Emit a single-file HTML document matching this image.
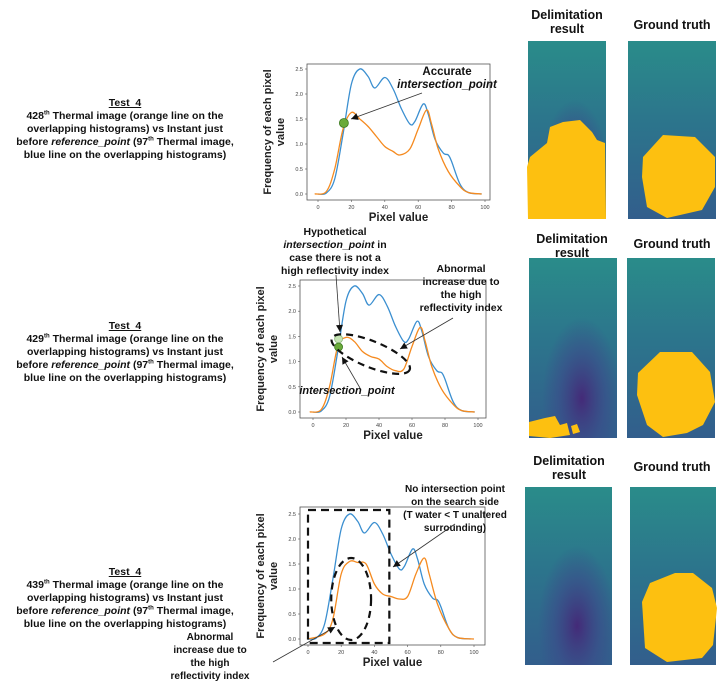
<!DOCTYPE html>
<html><head><meta charset="utf-8"><style>
body{margin:0;width:722px;height:683px;background:#fff;position:relative;overflow:hidden;font-family:"Liberation Sans",Arial,sans-serif}
.desc{position:absolute;left:0;width:250px;text-align:center;font-weight:bold;font-size:10.5px;line-height:13px;color:#111;white-space:nowrap}
.desc sup{font-size:6px;line-height:0}
.ttl{position:absolute;text-align:center;font-weight:bold;font-size:12.5px;line-height:14px;color:#111}
svg{position:absolute;left:0;top:0}
</style></head><body>
<div class="desc" style="top:97px"><u>Test_4</u><br>428<sup>th</sup> Thermal image (orange line on the<br>overlapping histograms) vs Instant just<br>before <i>reference_point</i> (97<sup>th</sup> Thermal image,<br>blue line on the overlapping histograms)</div>
<div class="desc" style="top:320px"><u>Test_4</u><br>429<sup>th</sup> Thermal image (orange line on the<br>overlapping histograms) vs Instant just<br>before <i>reference_point</i> (97<sup>th</sup> Thermal image,<br>blue line on the overlapping histograms)</div>
<div class="desc" style="top:566px"><u>Test_4</u><br>439<sup>th</sup> Thermal image (orange line on the<br>overlapping histograms) vs Instant just<br>before <i>reference_point</i> (97<sup>th</sup> Thermal image,<br>blue line on the overlapping histograms)</div>

<div class="ttl" style="left:517px;top:8px;width:100px">Delimitation<br>result</div>
<div class="ttl" style="left:622px;top:18px;width:100px">Ground truth</div>
<div class="ttl" style="left:522px;top:232px;width:100px">Delimitation<br>result</div>
<div class="ttl" style="left:622px;top:237px;width:100px">Ground truth</div>
<div class="ttl" style="left:519px;top:454px;width:100px">Delimitation<br>result</div>
<div class="ttl" style="left:622px;top:460px;width:100px">Ground truth</div>

<svg width="722" height="683" id="s">
<defs>
<linearGradient id="bg" x1="0" y1="0" x2="0" y2="1"><stop offset="0" stop-color="#2a8c8a"/><stop offset="0.45" stop-color="#2c758c"/><stop offset="1" stop-color="#325e8c"/></linearGradient>
<radialGradient id="dk" cx="0.6" cy="0.78" r="0.45"><stop offset="0" stop-color="#442a78"/><stop offset="0.6" stop-color="#3b4b8a" stop-opacity="0.6"/><stop offset="1" stop-color="#3b4b8a" stop-opacity="0"/></radialGradient>
</defs>
<g>
<rect x="528" y="41" width="78" height="178" fill="url(#bg)"/><rect x="528" y="41" width="78" height="178" fill="url(#dk)"/>
<polygon fill="#fdc010" points="527,167 530,157 547,143 550,127 563,122 580,120 592,132 597,140 605,143 606,219 528,219"/>
<rect x="628" y="41" width="88" height="178" fill="url(#bg)"/>
<polygon fill="#fdc010" points="643,157 663,135 695,137 715,157 715,187 702,210 667,218 647,207 642,177"/>
<rect x="529" y="258" width="88" height="180" fill="url(#bg)"/><rect x="529" y="258" width="88" height="180" fill="url(#dk)"/>
<polygon fill="#fdc010" points="529,422 545,418 555,416 560,425 567,423 570,435 550,438 529,436"/>
<polygon fill="#fdc010" points="571,426 577,424 580,432 573,434"/>
<rect x="627" y="258" width="88" height="180" fill="url(#bg)"/>
<polygon fill="#fdc010" points="660,352 692,352 710,372 715,402 703,425 687,433 663,437 647,425 637,395 638,373"/>
<rect x="525" y="487" width="87" height="178" fill="url(#bg)"/><rect x="525" y="487" width="87" height="178" fill="url(#dk)"/>
<rect x="630" y="487" width="86" height="178" fill="url(#bg)"/>
<polygon fill="#fdc010" points="650,583 675,573 693,573 712,588 717,608 713,645 702,658 667,662 645,648 642,602"/>
</g>
</svg>
<script>
const xVals=[0,5,10,15,20,25,30,34,40,45,50,55,58,63,66,70,75,78,80,85,90,98];
const blue=[0,0.02,0.3,1.2,2.2,2.5,2.35,2.12,2.33,2.1,1.7,1.4,1.45,1.8,1.6,1.1,0.82,0.78,0.65,0.2,0.03,0];
const xOr1=[-2,5,10,15,20,25,30,35,40,45,49,55,60,65,68,72,78,85,90,98];
const orange1=[0,0.05,0.5,1.3,1.63,1.5,1.35,1.15,0.95,0.85,0.78,0.9,1.3,1.68,1.4,0.9,0.45,0.15,0.03,0];
const xOr2=[-2,5,10,15,20,25,30,35,40,45,50,55,60,65,68,72,78,85,90,98];
const orange2=[0,0.05,0.5,1.3,1.48,1.4,1.2,1.1,1.05,0.9,0.82,0.85,1.3,1.68,1.4,0.9,0.45,0.15,0.03,0];
const xOr3=[0,10,15,20,25,30,35,40,45,50,55,60,65,70,73,78,85,90,100];
const orange3=[0,0.1,0.4,1.3,1.55,1.53,1.5,1.1,0.9,0.85,0.8,0.85,1.3,1.62,1.3,0.7,0.2,0.03,0];
const xTicks=[0,20,40,60,80,100];
const yTicks=[0.0,0.5,1.0,1.5,2.0,2.5];
const NS="http://www.w3.org/2000/svg";
const svg=document.getElementById('s');
function mk(t,a,p){const e=document.createElementNS(NS,t);for(const k in a)e.setAttribute(k,a[k]);(p||svg).appendChild(e);return e;}
function path(xs,ys,sx,sy){const P=xs.map((x,i)=>[sx(x),sy(ys[i])]);let d='M'+P[0][0]+','+P[0][1];
for(let i=0;i<P.length-1;i++){const p0=P[i-1]||P[i],p1=P[i],p2=P[i+1],p3=P[i+2]||p2;
d+=' C'+(p1[0]+(p2[0]-p0[0])/6)+','+(p1[1]+(p2[1]-p0[1])/6)+' '+(p2[0]-(p3[0]-p1[0])/6)+','+(p2[1]-(p3[1]-p1[1])/6)+' '+p2[0]+','+p2[1];}return d;}
function chart(c,n){
 const g=mk('g',{});
 
 
 const sx=v=>c.x0+(v/100)*(c.x1-c.x0), sy=v=>c.y0-(v/2.5)*(c.y0-c.y1);
 mk('rect',{x:c.bl,y:c.bt,width:c.br-c.bl,height:c.bb-c.bt,fill:'none',stroke:'#555','stroke-width':0.8},g);
 xTicks.forEach(t=>{mk('line',{x1:sx(t),x2:sx(t),y1:c.bb,y2:c.bb+2,stroke:'#555','stroke-width':0.6},g);
  const e=mk('text',{x:sx(t),y:c.bb+9,'font-size':5.5,'text-anchor':'middle',fill:'#444'},g);e.textContent=t;});
 yTicks.forEach(t=>{mk('line',{x1:c.bl-2,x2:c.bl,y1:sy(t),y2:sy(t),stroke:'#555','stroke-width':0.6},g);
  const e=mk('text',{x:c.bl-4,y:sy(t)+2,'font-size':5.5,'text-anchor':'end',fill:'#444'},g);e.textContent=t.toFixed(1);});
 const xl=mk('text',{x:(c.bl+c.br)/2,y:c.bb+21,'font-size':11.5,'font-weight':'bold','text-anchor':'middle',fill:'#222'},g);
 xl.textContent='Pixel value';
 
 const yl=mk('text',{transform:`translate(${c.bl-30},${(c.bt+c.bb)/2}) rotate(-90)`,'font-size':11,'font-weight':'bold','text-anchor':'middle',fill:'#222'},g);
 yl.innerHTML='<tspan x="0" dy="-6">Frequency of each pixel</tspan><tspan x="0" dy="13">value</tspan>';
 
 const b=mk('path',{d:path(xVals,blue,sx,sy),fill:'none',stroke:'#3b8fd0','stroke-width':1.3},g);
 
 const o=mk('path',{d:path(c.ox,c.oy,sx,sy),fill:'none',stroke:'#f58a1f','stroke-width':1.3},g);
 
 return {g,sx,sy};
}
const c1=chart({x0:318,x1:485,y0:194,y1:69,bl:307,br:490,bt:64,bb:200,ox:xOr1,oy:orange1},1);
const c2=chart({x0:313,x1:478,y0:412,y1:286,bl:300,br:486,bt:280,bb:418,ox:xOr2,oy:orange2},2);
const c3=chart({x0:308,x1:474,y0:639,y1:514,bl:300,br:485,bt:507,bb:645,ox:xOr3,oy:orange3},3);
function txt(x,y,lines,size){const e=mk('text',{x:x,y:y,'font-size':size||11,'font-weight':'bold','text-anchor':'middle',fill:'#111'});
 e.innerHTML=lines.map((l,i)=>`<tspan x="${x}" dy="${i?13:0}">${l}</tspan>`).join('');return e;}
function arrow(x1,y1,x2,y2){mk('line',{x1,y1,x2,y2,stroke:'#333','stroke-width':0.8});
 const a=Math.atan2(y2-y1,x2-x1),L=7,W=3.5;
 mk('polygon',{points:`${x2},${y2} ${x2-L*Math.cos(a)+W*Math.sin(a)},${y2-L*Math.sin(a)-W*Math.cos(a)} ${x2-L*Math.cos(a)-W*Math.sin(a)},${y2-L*Math.sin(a)+W*Math.cos(a)}`,fill:'#111'});}
let t=txt(447,75,['Accurate','<tspan font-style="italic">intersection_point</tspan>'],11.5);

arrow(422,93,351,119);
let pt=mk('circle',{cx:c1.sx(15.5),cy:c1.sy(1.42),r:4.5,fill:'#6aaa3a',stroke:'#3c7a20','stroke-width':0.8});

t=txt(335,235,['Hypothetical','<tspan font-style="italic">intersection_point</tspan> in','case there is not a','high reflectivity index'],10.5);

t=txt(461,272,['Abnormal','increase due to','the high','reflectivity index'],10.5);

arrow(336,275,340,332);
arrow(453,318,400,349);
arrow(360,388,342,357);
t=mk('text',{x:347,y:394,'font-size':11,'font-weight':'bold','font-style':'italic','text-anchor':'middle',fill:'#111'});
t.textContent='intersection_point';
pt=mk('circle',{cx:c2.sx(15.5),cy:c2.sy(1.45),r:4,fill:'#c6e4b4',stroke:'#8ab878','stroke-width':0.8});

pt=mk('circle',{cx:c2.sx(15.5),cy:c2.sy(1.29),r:4,fill:'#6aaa3a',stroke:'#3c7a20','stroke-width':0.8});

let el=mk('ellipse',{cx:0,cy:0,rx:42,ry:13,fill:'none',stroke:'#111','stroke-width':2.2,'stroke-dasharray':'7,5',transform:`translate(${c2.sx(35)},${c2.sy(1.15)}) rotate(22)`});

t=txt(455,492,['No intersection point','on the search side','(T water &lt; T unaltered','surrounding)'],10);

arrow(455,524,393,567);
t=txt(210,640,['Abnormal','increase due to','the high','reflectivity index'],10);

arrow(273,662,335,627);
let r=mk('rect',{x:c3.sx(0),y:c3.sy(2.58),width:c3.sx(49)-c3.sx(0),height:c3.sy(-0.08)-c3.sy(2.58),fill:'none',stroke:'#111','stroke-width':2.2,'stroke-dasharray':'8,5'});

el=mk('ellipse',{cx:c3.sx(26),cy:c3.sy(0.8),rx:c3.sx(38)-c3.sx(26),ry:c3.sy(0)-c3.sy(0.82),fill:'none',stroke:'#111','stroke-width':2.2,'stroke-dasharray':'7,5'});

</script>
</body></html>
